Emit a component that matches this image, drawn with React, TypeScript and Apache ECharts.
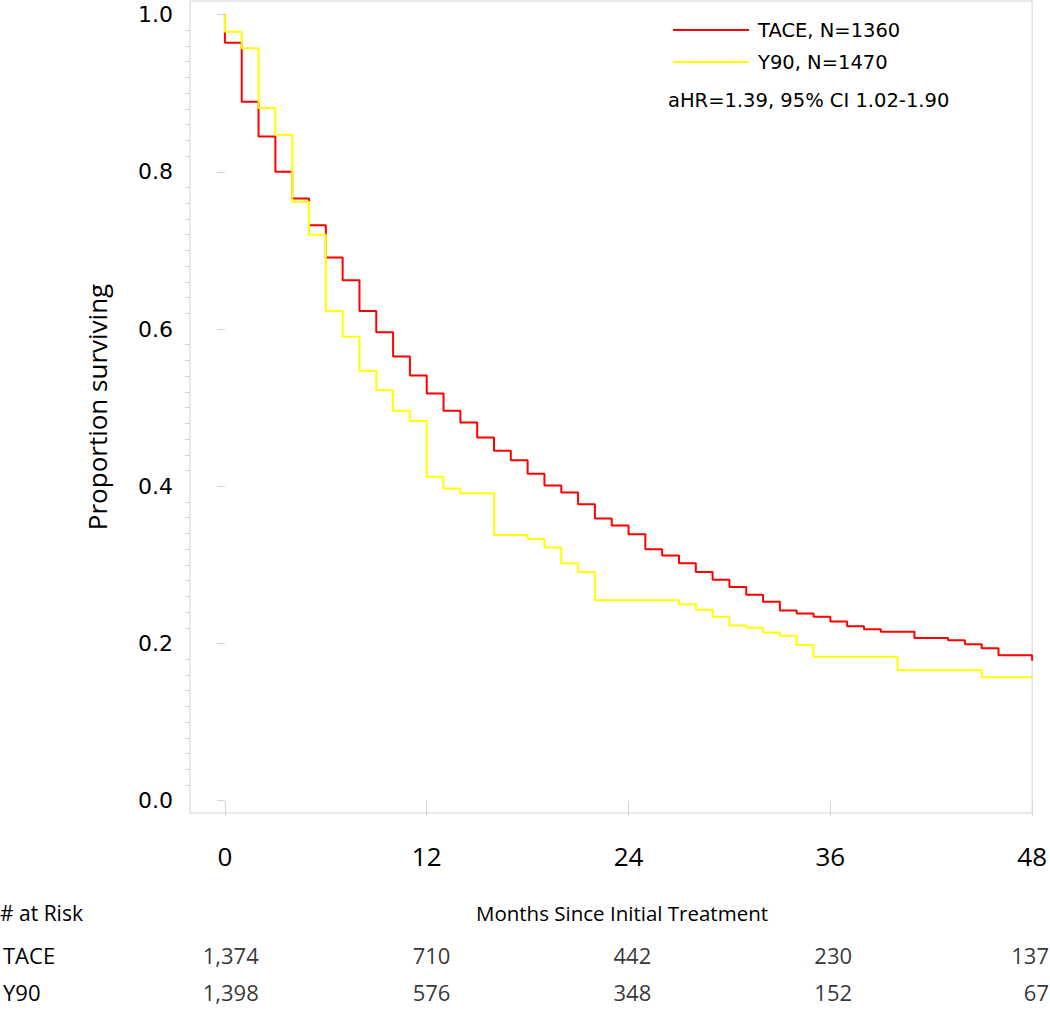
import React, { useEffect, useRef } from "react";
import * as echarts from "echarts";

const TICK_MONTHS = [0, 12, 24, 36, 48];
const Y_TICKS = [0, 0.2, 0.4, 0.6, 0.8, 1.0];

const TACE_TIME = [0, 0, 1, 2, 3, 4, 5, 6, 7, 8, 9, 10, 11, 12, 13, 14, 15, 16, 17, 18, 19, 20, 21, 22, 23, 24, 25, 26, 27, 28, 29, 30, 31, 32, 33, 34, 35, 36, 37, 38, 39, 41, 43, 44, 45, 46, 48];
const TACE_SURV = [1.0, 0.964, 0.889, 0.845, 0.8, 0.766, 0.732, 0.691, 0.662, 0.623, 0.596, 0.565, 0.541, 0.518, 0.496, 0.481, 0.462, 0.445, 0.433, 0.416, 0.401, 0.392, 0.377, 0.359, 0.35, 0.339, 0.32, 0.312, 0.302, 0.291, 0.281, 0.272, 0.262, 0.253, 0.242, 0.238, 0.234, 0.228, 0.222, 0.218, 0.215, 0.207, 0.204, 0.199, 0.194, 0.185, 0.178];

const Y90_TIME = [0, 0, 1, 2, 3, 4, 5, 6, 7, 8, 9, 10, 11, 12, 13, 14, 16, 18, 19, 20, 21, 22, 27, 28, 29, 30, 31, 32, 33, 34, 35, 40, 45, 48];
const Y90_SURV = [1.0, 0.978, 0.957, 0.881, 0.847, 0.762, 0.72, 0.623, 0.59, 0.547, 0.522, 0.496, 0.483, 0.412, 0.397, 0.391, 0.338, 0.333, 0.322, 0.302, 0.291, 0.255, 0.25, 0.243, 0.234, 0.223, 0.22, 0.214, 0.21, 0.198, 0.183, 0.166, 0.157, 0.157];

const RISK_ROWS = ["TACE", "Y90"];
const TACE_RISK = [1374, 710, 442, 230, 137];
const Y90_RISK = [1398, 576, 348, 152, 67];

const TACE_NAME = "TACE, N=1360";
const Y90_NAME = "Y90, N=1470";
const HR_TEXT = "aHR=1.39, 95% CI 1.02-1.90";

const X_MIN = -2.077;
const X_MAX = 48;
const Y_MIN = -0.0156;
const Y_MAX = 1.0172;

const MINOR_Y: number[] = [];
for (let i = 0; i <= 50; i++) {
  if (i % 10 !== 0) MINOR_Y.push(+(i * 0.02).toFixed(2));
}

const GRAY = "#d4d4d4";
const SANS = '"Open Sans", "Noto Sans", sans-serif';
const WIDE = '"DejaVu Sans", sans-serif';
const LINE_ICON = "path://M0,0H76V2H0Z";

export default function App() {
  const ref = useRef<HTMLDivElement>(null);

  useEffect(() => {
    if (!ref.current) return;
    const chart = echarts.init(ref.current, undefined, { renderer: "svg" });

    const lastIdx = TICK_MONTHS.length - 1;
    const riskData = (row: string, vals: number[]) =>
      TICK_MONTHS.map((m, i) =>
        i === lastIdx
          ? { value: [m, row, vals[i]], label: { align: "right", offset: [15, 0] } }
          : { value: [m, row, vals[i]] }
      );

    chart.setOption({
      animation: false,
      backgroundColor: "#ffffff",
      grid: [
        {
          left: 190,
          right: 16,
          top: 1,
          bottom: 197,
          show: true,
          borderColor: GRAY,
          borderWidth: 1,
          backgroundColor: "transparent",
        },
        { left: 190, right: 16, top: 937, height: 84, show: false },
      ],
      legend: {
        orient: "vertical",
        left: 668,
        top: 15,
        itemWidth: 76,
        itemHeight: 14,
        itemGap: 12,
        symbolKeepAspect: true,
        data: [
          { name: TACE_NAME, icon: LINE_ICON, itemStyle: { color: "#ff0000" } },
          { name: Y90_NAME, icon: LINE_ICON, itemStyle: { color: "#ffff00" } },
        ],
        textStyle: {
          fontFamily: WIDE,
          fontSize: 19.5,
          color: "#000",
          padding: [0, 0, 0, 4],
        },
      },
      xAxis: [
        {
          type: "value",
          gridIndex: 0,
          min: X_MIN,
          max: X_MAX,
          axisLine: { show: false },
          splitLine: { show: false },
          axisTick: {
            show: true,
            customValues: TICK_MONTHS,
            length: 15,
            lineStyle: { color: GRAY, width: 1 },
          },
          axisLabel: {
            customValues: TICK_MONTHS,
            margin: 30,
            fontFamily: SANS,
            fontSize: 26,
            color: "#000",
          },
        },
        {
          type: "value",
          gridIndex: 1,
          min: X_MIN,
          max: X_MAX,
          show: false,
        },
      ],
      yAxis: [
        {
          type: "value",
          gridIndex: 0,
          min: Y_MIN,
          max: Y_MAX,
          name: "Proportion surviving",
          nameLocation: "middle",
          nameRotate: 90,
          nameGap: 80,
          nameTextStyle: { fontFamily: SANS, fontSize: 26, color: "#000" },
          axisLine: { show: false },
          splitLine: { show: false },
          axisTick: {
            show: true,
            customValues: Y_TICKS,
            length: 8,
            lineStyle: { color: GRAY, width: 1 },
          },
          axisLabel: {
            customValues: Y_TICKS,
            margin: 17,
            fontFamily: WIDE,
            fontSize: 22,
            color: "#000",
            formatter: (v: number) => v.toFixed(1),
          },
        },
        {
          type: "value",
          gridIndex: 0,
          min: Y_MIN,
          max: Y_MAX,
          position: "left",
          axisLine: { show: false },
          splitLine: { show: false },
          axisLabel: { show: false },
          axisTick: {
            show: true,
            customValues: MINOR_Y,
            length: 5,
            lineStyle: { color: GRAY, width: 1 },
          },
        },
        {
          type: "category",
          gridIndex: 1,
          data: RISK_ROWS,
          inverse: true,
          axisLine: { show: false },
          axisTick: { show: false },
          splitLine: { show: false },
          axisLabel: {
            align: "left",
            margin: 193,
            fontFamily: SANS,
            fontSize: 22,
            color: "#000",
          },
        },
      ],
      series: [
        {
          name: TACE_NAME,
          type: "line",
          xAxisIndex: 0,
          yAxisIndex: 0,
          step: "end",
          symbol: "none",
          showSymbol: false,
          lineStyle: { color: "#ff0000", width: 2 },
          itemStyle: { color: "#ff0000" },
          data: TACE_TIME.map((t, i) => [t, TACE_SURV[i]]),
          z: 2,
        },
        {
          name: Y90_NAME,
          type: "line",
          xAxisIndex: 0,
          yAxisIndex: 0,
          step: "end",
          symbol: "none",
          showSymbol: false,
          lineStyle: { color: "#ffff00", width: 2 },
          itemStyle: { color: "#ffff00" },
          data: Y90_TIME.map((t, i) => [t, Y90_SURV[i]]),
          z: 3,
        },
        ...[
          { row: RISK_ROWS[0], vals: TACE_RISK },
          { row: RISK_ROWS[1], vals: Y90_RISK },
        ].map((r) => ({
          type: "scatter",
          xAxisIndex: 1,
          yAxisIndex: 2,
          symbolSize: 0,
          silent: true,
          data: riskData(r.row, r.vals),
          label: {
            show: true,
            position: "inside",
            fontFamily: SANS,
            fontSize: 22,
            color: "#000",
            formatter: (p: any) => Number(p.value[2]).toLocaleString("en-US"),
          },
        })),
      ],
      graphic: [
        {
          type: "text",
          x: 0,
          y: 913,
          style: {
            text: "# at Risk",
            fontFamily: SANS,
            fontSize: 21,
            fill: "#000",
            align: "left",
            verticalAlign: "middle",
          },
        },
        {
          type: "text",
          x: 622,
          y: 913,
          style: {
            text: "Months Since Initial Treatment",
            fontFamily: SANS,
            fontSize: 20.5,
            fill: "#000",
            align: "center",
            verticalAlign: "middle",
          },
        },
        {
          type: "text",
          x: 668,
          y: 100,
          style: {
            text: HR_TEXT,
            fontFamily: WIDE,
            fontSize: 19.5,
            fill: "#000",
            align: "left",
            verticalAlign: "middle",
          },
        },
      ],
    });

    return () => chart.dispose();
  }, []);

  return (
    <div
      ref={ref}
      style={{ position: "absolute", left: 0, top: 0, width: 1050, height: 1010 }}
    />
  );
}
